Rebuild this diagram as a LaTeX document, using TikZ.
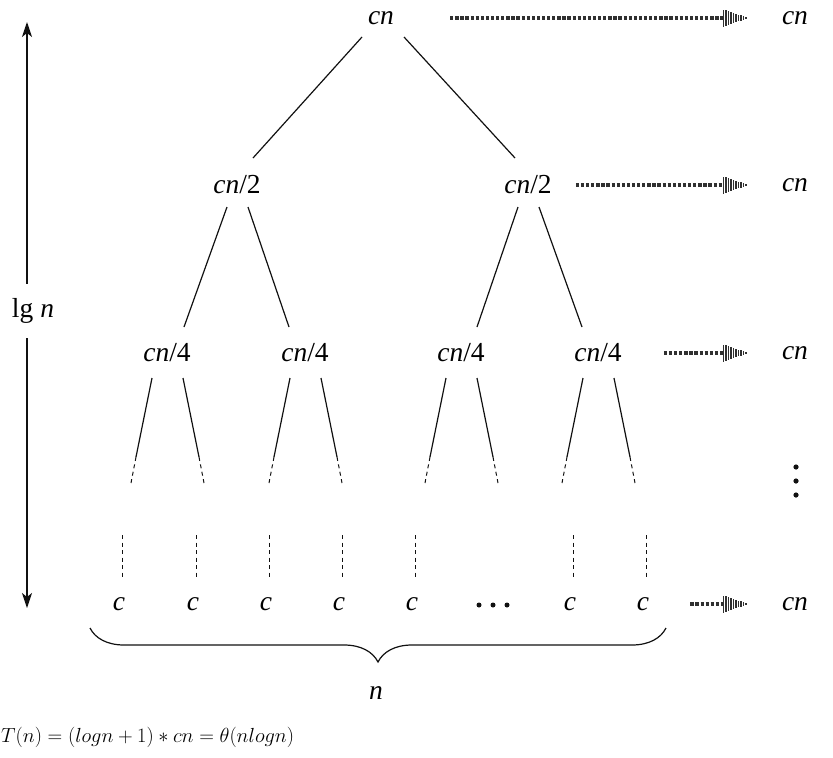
\RequirePackage{fix-cm}
\documentclass[tikz,border=0pt]{standalone}
\usepackage{fontspec}
\setmainfont{Liberation Serif}
\usepackage{tikz}
\usetikzlibrary{arrows.meta,calc,decorations.pathreplacing,decorations.markings}
\definecolor{inkc}{HTML}{111111}
\definecolor{dotc}{HTML}{303030}
\tikzset{
  lab/.style={inner sep=0pt,font=\fontsize{27.5}{30}\selectfont},
  edge/.style={line width=1.2pt,draw=inkc},
  edged/.style={edge,line width=1pt,dash pattern=on 4pt off 3.5pt},
  % --- level sums: thick dotted shaft, striped head ---
  levelflow/.style={draw=dotc,line width=3.6pt,dash pattern=on 3.3pt off 1.8pt,
    shorten >=25pt,postaction={decorate},
    decoration={markings,mark=at position 1 with {
      \foreach \k in {0,...,9}{
        \pgfmathsetmacro\hh{8.5*(1-\k/10)}
        \fill[dotc] ({-25pt+\k*2.5pt},{-\hh pt}) rectangle ++(1.5pt,{2*\hh pt});
      }}}},
  vflow/.style={line width=1.2pt,draw=inkc,-{Stealth[length=15pt,width=10pt,inset=4pt]}},
  brc/.style={decorate,decoration={brace,mirror,amplitude=34pt},line width=1.2pt,draw=inkc},
}

\begin{document}
\begin{tikzpicture}[x=1pt,y=-1pt]
  \useasboundingbox (0,0) rectangle (833,758);
  % tree
  \node[lab] (root) at (381,18)  {\itshape cn};
  \node[lab] (l1a)  at (237,185) {{\itshape cn}/2};
  \node[lab] (l1b)  at (528,185) {{\itshape cn}/2};
  \node[lab] (l2a)  at (167,353) {{\itshape cn}/4};
  \node[lab] (l2b)  at (305,353) {{\itshape cn}/4};
  \node[lab] (l2c)  at (461,353) {{\itshape cn}/4};
  \node[lab] (l2d)  at (598,353) {{\itshape cn}/4};
  \foreach \nm/\x in {c1/119,c2/193,c3/266,c4/339,c5/412,c7/570,c8/643}
    \node[lab] (\nm) at (\x,604) {\itshape c};
  \coordinate (c6) at (493,605);
  \foreach \dx in {-14,0,14} \fill[inkc] ($(c6)+(\dx,0)$) circle (2.5pt);

  \draw[edge] ($(root)+(-19,19)$) -- ($(l1a)+(16,-27)$);
  \draw[edge] ($(root)+(23,19)$)  -- ($(l1b)+(-13,-27)$);
  \draw[edge] ($(l1a)+(-10,22)$)  -- ($(l2a)+(17,-26)$);
  \draw[edge] ($(l1a)+(11,22)$)   -- ($(l2b)+(-16,-26)$);
  \draw[edge] ($(l1b)+(-10,22)$)  -- ($(l2c)+(16,-26)$);
  \draw[edge] ($(l1b)+(11,22)$)   -- ($(l2d)+(-16,-26)$);
  \foreach \nd in {l2a,l2b,l2c,l2d}{
    \draw[edge]  ($(\nd)+(-15,25)$)  -- ($(\nd)+(-31,104)$);
    \draw[edged] ($(\nd)+(-31,104)$) -- ($(\nd)+(-36,130)$);
    \draw[edge]  ($(\nd)+(16,25)$)   -- ($(\nd)+(32,104)$);
    \draw[edged] ($(\nd)+(32,104)$)  -- ($(\nd)+(37,130)$);
  }
  \foreach \lf in {c1,c2,c3,c4,c5,c7,c8}
    \draw[edged] ($(\lf)+(3,-69)$) -- ($(\lf)+(3,-27)$);

  % level sums
  \node[lab] (s0) at (795,18)  {\itshape cn};
  \node[lab] (s1) at (795,185) {\itshape cn};
  \node[lab] (s2) at (795,353) {\itshape cn};
  \node[lab] (s3) at (795,604) {\itshape cn};
  \coordinate (svd) at (796,481);
  \foreach \dy in {-14,0,14} \fill[inkc] ($(svd)+(0,\dy)$) circle (2.6pt);
  \draw[levelflow] ($(root.east)+(56,0)$) -- ($(s0.west)+(-34,0)$);
  \draw[levelflow] ($(l1b.east)+(24,0)$)  -- ($(s1.west)+(-34,0)$);
  \draw[levelflow] ($(l2d.east)+(42,0)$)  -- ($(s2.west)+(-34,0)$);
  \draw[levelflow] ($(c8.east)+(41,0)$)   -- ($(s3.west)+(-34,0)$);

  % height
  \node[lab,minimum height=54pt] (lgn) at (33,311) {lg \textit{n}};
  \coordinate (lgtop) at (27,22);
  \coordinate (lgbot) at (27,608);
  \draw[vflow] (lgtop |- lgn.north) -- (lgtop);
  \draw[vflow] (lgbot |- lgn.south) -- (lgbot);

  % width
  \draw[brc] ($(c1)+(-29,24)$) -- ($(c8)+(23,24)$);
  \node[lab] (nlab) at (376,693) {\itshape n};

  \node[inner sep=0pt,anchor=west,font=\fontsize{20.4}{24}\selectfont] (tn) at (1,737)
    {$T(n)=(logn+1)*cn=\theta(nlogn)$};
\end{tikzpicture}
\end{document}
